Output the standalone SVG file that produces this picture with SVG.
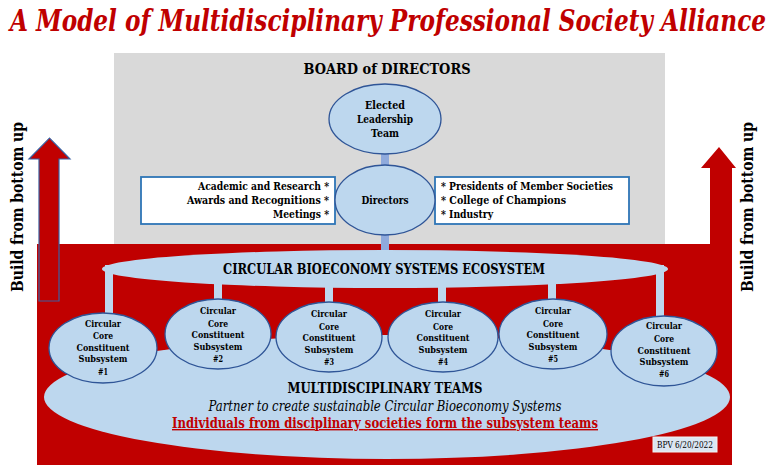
<svg xmlns="http://www.w3.org/2000/svg" width="778" height="465" viewBox="0 0 778 465">
<style>
text{font-family:"DejaVu Serif","Liberation Serif","Times New Roman",serif}
.t{font-weight:bold;fill:#000;text-anchor:middle}
.s{font-size:10px}
.b{font-size:11.5px}
.end{text-anchor:end}
.start{text-anchor:start}
.node{fill:#bdd7ee;stroke:#2f5597;stroke-width:1.3}
.box{fill:#fff;stroke:#2e75b6;stroke-width:1.8}
.bar{fill:#bdd7ee}
.bar2{fill:#8faadc}
</style>
<rect width="778" height="465" fill="#fff"/>
<text transform="translate(388,31) scale(0.68,1)" x="0" y="0" font-weight="bold" font-style="italic" font-size="30" fill="#c00000" text-anchor="middle" textLength="1112" lengthAdjust="spacingAndGlyphs">A Model of Multidisciplinary Professional Society Alliance</text>
<rect x="114" y="53" width="551" height="192" fill="#d9d9d9"/>
<path d="M37,244 H710 V168 H701 L719,147 L736,168 H732 V465 H37 Z" fill="#c00000"/>
<polygon points="39,301 39,159 29,159 49.5,138 70,159 59,159 59,301" fill="#c00000" stroke="#3a5fa0" stroke-width="1.2"/>
<text class="t" font-size="16" transform="translate(23,207) rotate(-90)" textLength="170" lengthAdjust="spacingAndGlyphs">Build from bottom up</text>
<text class="t" font-size="16" transform="translate(753,207) rotate(-90)" textLength="170" lengthAdjust="spacingAndGlyphs">Build from bottom up</text>
<g id="multidisciplinary-teams">
<ellipse cx="387" cy="397" rx="343" ry="62" fill="#bdd7ee"/>
<text class="t" x="385" y="393" font-size="14" textLength="195" lengthAdjust="spacingAndGlyphs">MULTIDISCIPLINARY TEAMS</text>
<text x="385" y="411" font-style="italic" font-size="15" text-anchor="middle" textLength="353" lengthAdjust="spacingAndGlyphs">Partner to create sustainable Circular Bioeconomy Systems</text>
<text class="t" x="385" y="428" font-size="14" style="fill:#c00000" text-decoration="underline" textLength="426" lengthAdjust="spacingAndGlyphs">Individuals from disciplinary societies form the subsystem teams</text>
</g>
<g id="connectors">
<rect class="bar2" x="381" y="150" width="8" height="18"/>
<rect class="bar2" x="381" y="232" width="8" height="20"/>
<rect class="bar" x="105" y="265" width="8" height="50"/>
<rect class="bar" x="214" y="280" width="8" height="21"/>
<rect class="bar" x="325" y="280" width="8" height="25"/>
<rect class="bar" x="438" y="280" width="8" height="24"/>
<rect class="bar" x="548" y="280" width="8" height="22"/>
<rect class="bar" x="656" y="265" width="8" height="54"/>
</g>
<g id="ecosystem">
<ellipse cx="385" cy="269" rx="283" ry="19" fill="#bdd7ee"/>
<text class="t" x="384" y="274" font-size="14" textLength="322" lengthAdjust="spacingAndGlyphs">CIRCULAR BIOECONOMY SYSTEMS ECOSYSTEM</text>
</g>
<g id="board">
<text class="t" x="387" y="74" font-size="15" textLength="167" lengthAdjust="spacingAndGlyphs">BOARD of DIRECTORS</text>
</g>
<g id="elected">
<ellipse class="node" cx="385" cy="119" rx="56" ry="35"/>
<text class="t b" x="385" y="109" textLength="40" lengthAdjust="spacingAndGlyphs">Elected</text>
<text class="t b" x="385" y="123" textLength="56" lengthAdjust="spacingAndGlyphs">Leadership</text>
<text class="t b" x="385" y="137" textLength="28" lengthAdjust="spacingAndGlyphs">Team</text>
</g>
<g id="left-box">
<rect class="box" x="141" y="177" width="194" height="47"/>
<text class="t b end" x="329" y="190" textLength="131" lengthAdjust="spacingAndGlyphs">Academic and Research *</text>
<text class="t b end" x="329" y="204" textLength="142" lengthAdjust="spacingAndGlyphs">Awards and Recognitions *</text>
<text class="t b end" x="329" y="218" textLength="56" lengthAdjust="spacingAndGlyphs">Meetings *</text>
</g>
<g id="right-box">
<rect class="box" x="435" y="177" width="194" height="47"/>
<text class="t b start" x="441" y="190" textLength="172" lengthAdjust="spacingAndGlyphs">* Presidents of Member Societies</text>
<text class="t b start" x="441" y="204" textLength="125" lengthAdjust="spacingAndGlyphs">* College of Champions</text>
<text class="t b start" x="441" y="218" textLength="52" lengthAdjust="spacingAndGlyphs">* Industry</text>
</g>
<g id="directors">
<ellipse class="node" cx="385" cy="200" rx="50" ry="35"/>
<text class="t b" x="385" y="204" textLength="47" lengthAdjust="spacingAndGlyphs">Directors</text>
</g>
<g id="subsystem-1">
<ellipse class="node" cx="103" cy="348" rx="54" ry="35"/>
<text class="t s" x="103" y="327" textLength="36" lengthAdjust="spacingAndGlyphs">Circular</text>
<text class="t s" x="103" y="339" textLength="20" lengthAdjust="spacingAndGlyphs">Core</text>
<text class="t s" x="103" y="351" textLength="53" lengthAdjust="spacingAndGlyphs">Constituent</text>
<text class="t s" x="103" y="362" textLength="49" lengthAdjust="spacingAndGlyphs">Subsystem</text>
<text class="t s" x="103" y="375" textLength="10" lengthAdjust="spacingAndGlyphs">#1</text>
</g>
<g id="subsystem-2">
<ellipse class="node" cx="218" cy="334" rx="53" ry="35"/>
<text class="t s" x="218" y="314" textLength="36" lengthAdjust="spacingAndGlyphs">Circular</text>
<text class="t s" x="218" y="327" textLength="20" lengthAdjust="spacingAndGlyphs">Core</text>
<text class="t s" x="218" y="338" textLength="53" lengthAdjust="spacingAndGlyphs">Constituent</text>
<text class="t s" x="218" y="350" textLength="49" lengthAdjust="spacingAndGlyphs">Subsystem</text>
<text class="t s" x="218" y="362" textLength="10" lengthAdjust="spacingAndGlyphs">#2</text>
</g>
<g id="subsystem-3">
<ellipse class="node" cx="329" cy="337" rx="53" ry="35"/>
<text class="t s" x="329" y="317" textLength="36" lengthAdjust="spacingAndGlyphs">Circular</text>
<text class="t s" x="329" y="330" textLength="20" lengthAdjust="spacingAndGlyphs">Core</text>
<text class="t s" x="329" y="341" textLength="53" lengthAdjust="spacingAndGlyphs">Constituent</text>
<text class="t s" x="329" y="353" textLength="49" lengthAdjust="spacingAndGlyphs">Subsystem</text>
<text class="t s" x="329" y="365" textLength="10" lengthAdjust="spacingAndGlyphs">#3</text>
</g>
<g id="subsystem-4">
<ellipse class="node" cx="443" cy="337" rx="55" ry="35"/>
<text class="t s" x="443" y="317" textLength="36" lengthAdjust="spacingAndGlyphs">Circular</text>
<text class="t s" x="443" y="330" textLength="20" lengthAdjust="spacingAndGlyphs">Core</text>
<text class="t s" x="443" y="341" textLength="53" lengthAdjust="spacingAndGlyphs">Constituent</text>
<text class="t s" x="443" y="353" textLength="49" lengthAdjust="spacingAndGlyphs">Subsystem</text>
<text class="t s" x="443" y="365" textLength="10" lengthAdjust="spacingAndGlyphs">#4</text>
</g>
<g id="subsystem-5">
<ellipse class="node" cx="553" cy="334" rx="54" ry="35"/>
<text class="t s" x="553" y="314" textLength="36" lengthAdjust="spacingAndGlyphs">Circular</text>
<text class="t s" x="553" y="327" textLength="20" lengthAdjust="spacingAndGlyphs">Core</text>
<text class="t s" x="553" y="338" textLength="53" lengthAdjust="spacingAndGlyphs">Constituent</text>
<text class="t s" x="553" y="350" textLength="49" lengthAdjust="spacingAndGlyphs">Subsystem</text>
<text class="t s" x="553" y="362" textLength="10" lengthAdjust="spacingAndGlyphs">#5</text>
</g>
<g id="subsystem-6">
<ellipse class="node" cx="664" cy="351" rx="53" ry="35"/>
<text class="t s" x="664" y="329" textLength="36" lengthAdjust="spacingAndGlyphs">Circular</text>
<text class="t s" x="664" y="342" textLength="20" lengthAdjust="spacingAndGlyphs">Core</text>
<text class="t s" x="664" y="354" textLength="53" lengthAdjust="spacingAndGlyphs">Constituent</text>
<text class="t s" x="664" y="365" textLength="49" lengthAdjust="spacingAndGlyphs">Subsystem</text>
<text class="t s" x="664" y="377" textLength="10" lengthAdjust="spacingAndGlyphs">#6</text>
</g>
<g id="credit">
<rect x="653" y="437" width="64" height="15" fill="#dce6f2" stroke="#f2f2f2" stroke-width="1"/>
<text x="685" y="447.5" font-size="8.5" text-anchor="middle" textLength="56" lengthAdjust="spacingAndGlyphs">BPV 6/20/2022</text>
</g>
</svg>
